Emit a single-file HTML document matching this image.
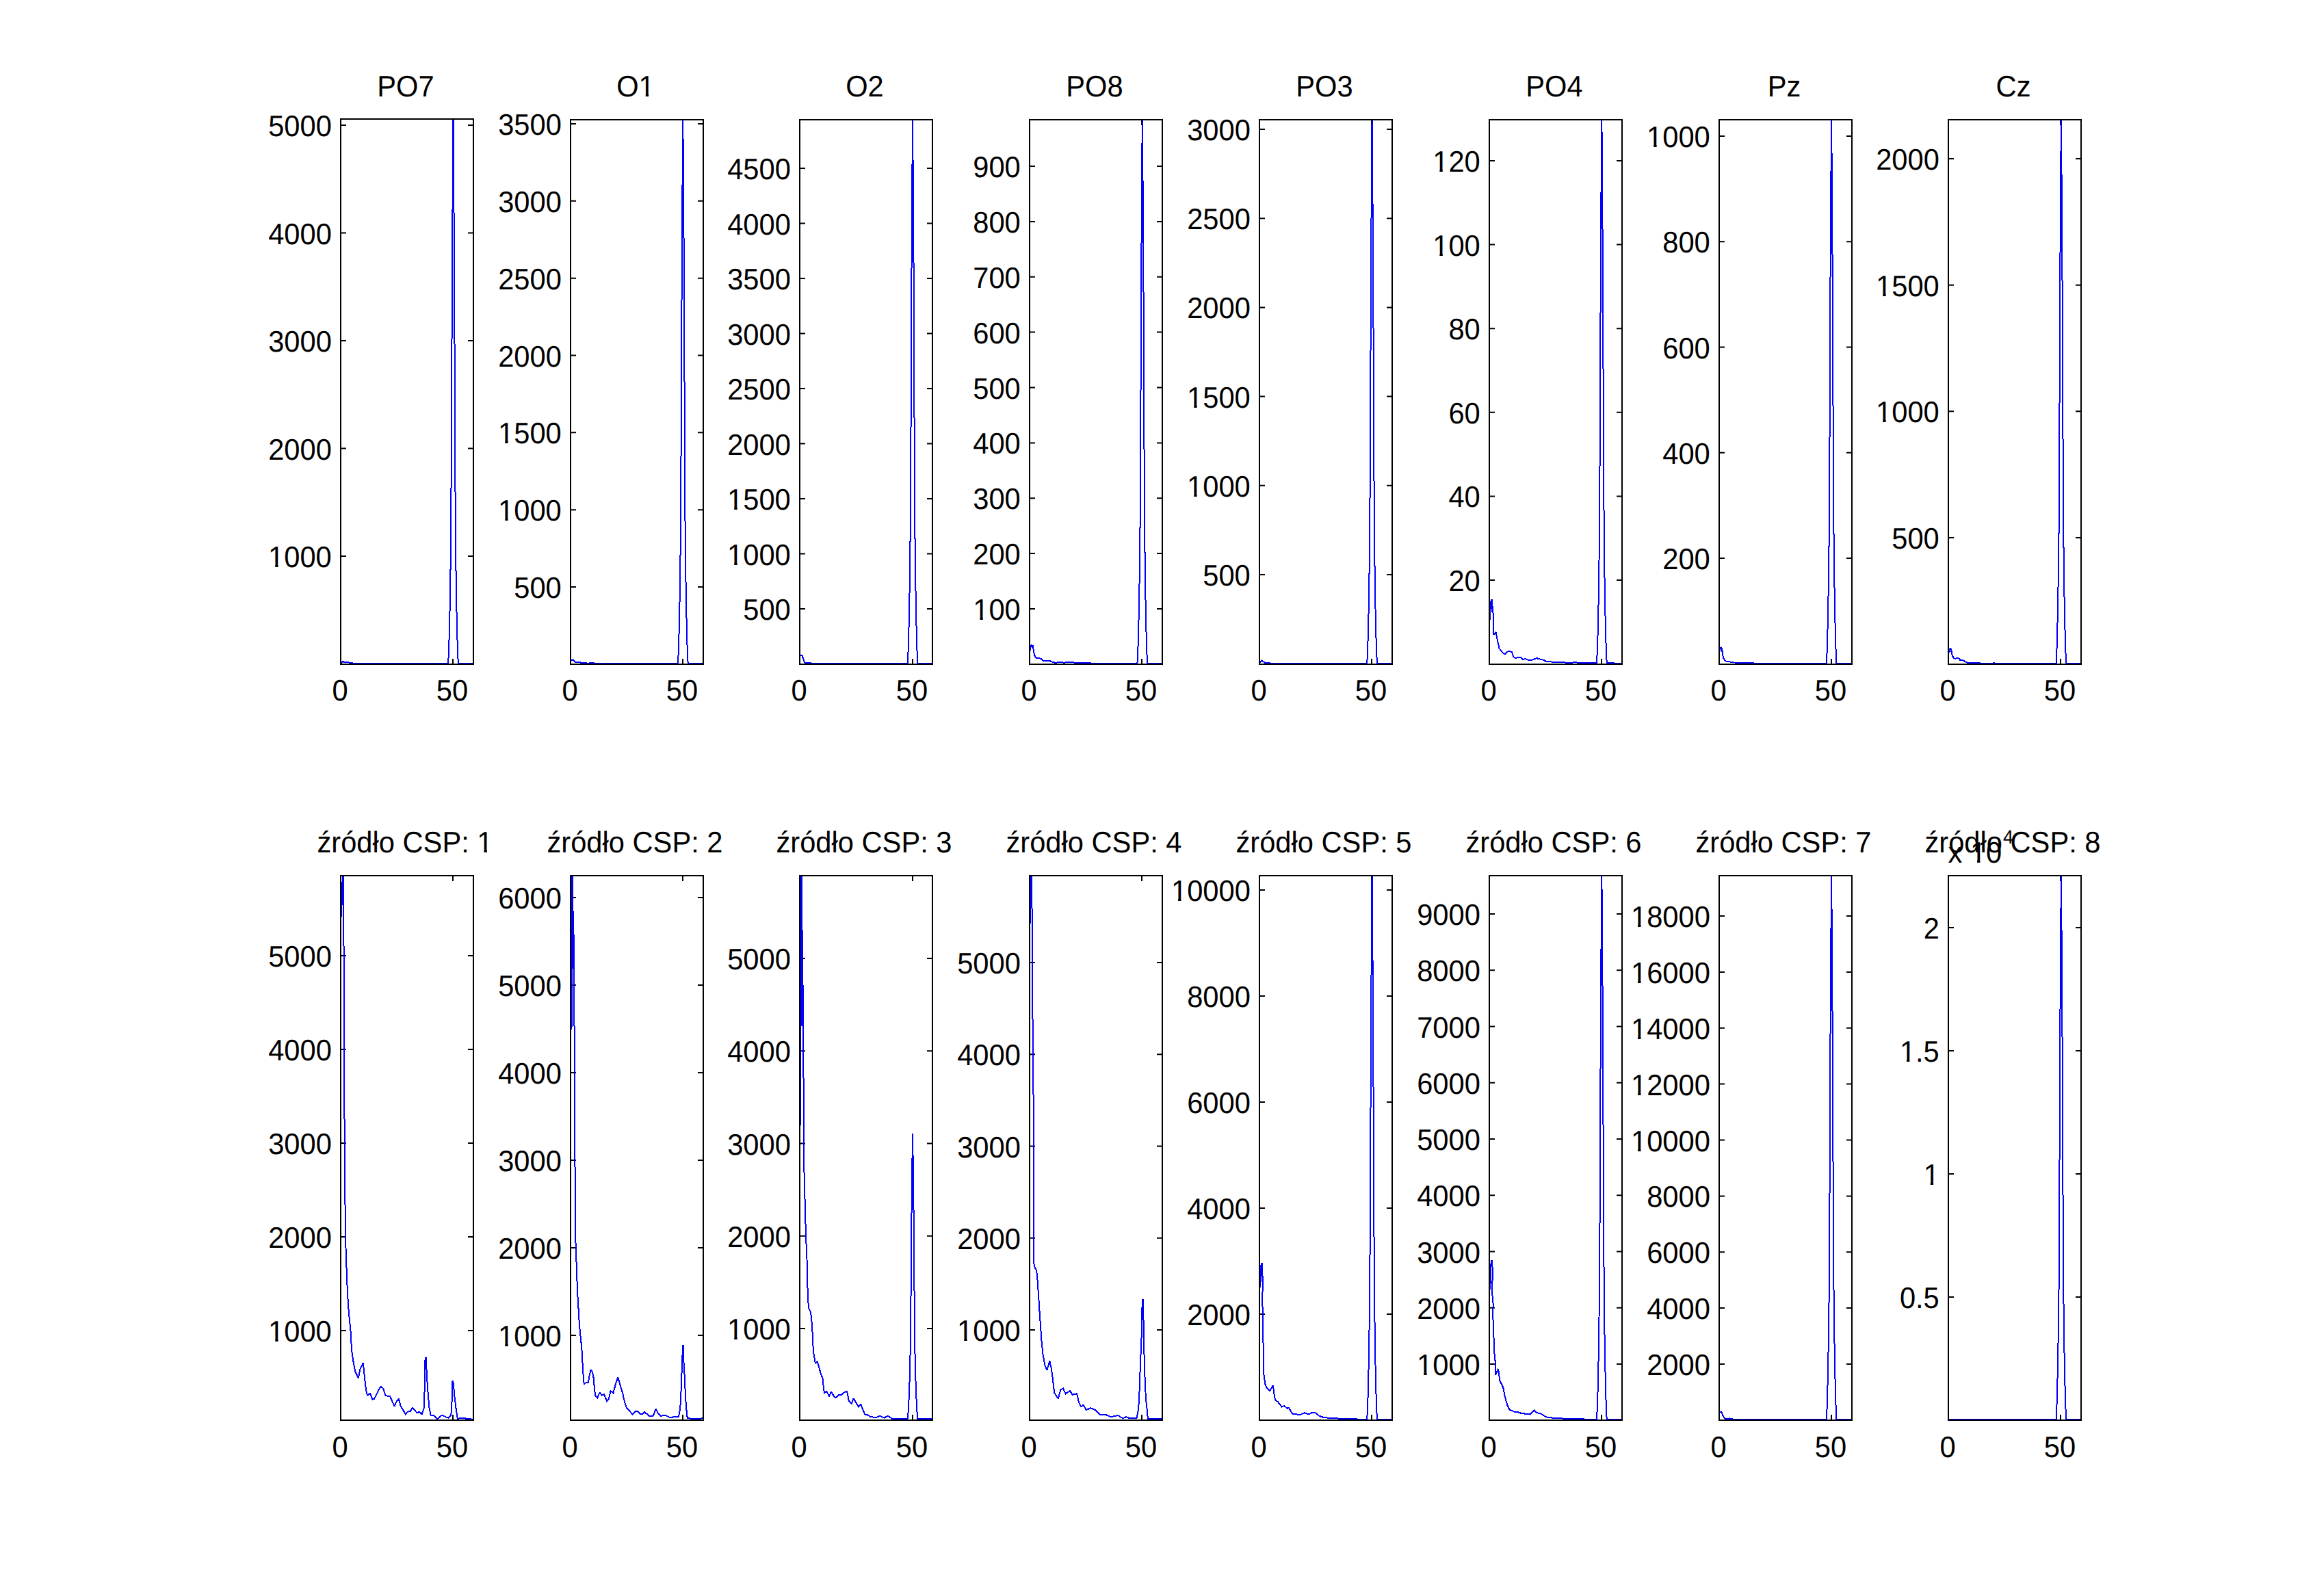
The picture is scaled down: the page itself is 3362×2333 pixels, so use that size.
<!DOCTYPE html>
<html><head><meta charset="utf-8"><title>figure</title>
<style>html,body{margin:0;padding:0;background:#fff;}svg{display:block;}text{font-family:"Liberation Sans",sans-serif;font-size:41.67px;fill:#000;text-rendering:geometricPrecision;}</style></head><body>
<svg xmlns="http://www.w3.org/2000/svg" width="3362" height="2333" viewBox="0 0 3362 2333">
<rect width="3362" height="2333" fill="#fff"/>
<defs><clipPath id="c0"><rect x="497" y="173" width="196" height="799"/></clipPath><clipPath id="c1"><rect x="833" y="174" width="196" height="798"/></clipPath><clipPath id="c2"><rect x="1168" y="174" width="196" height="798"/></clipPath><clipPath id="c3"><rect x="1504" y="174" width="196" height="798"/></clipPath><clipPath id="c4"><rect x="1840" y="174" width="196" height="798"/></clipPath><clipPath id="c5"><rect x="2176" y="174" width="196" height="798"/></clipPath><clipPath id="c6"><rect x="2512" y="174" width="196" height="798"/></clipPath><clipPath id="c7"><rect x="2847" y="174" width="196" height="798"/></clipPath><clipPath id="c8"><rect x="497" y="1279" width="196" height="798"/></clipPath><clipPath id="c9"><rect x="833" y="1279" width="196" height="798"/></clipPath><clipPath id="c10"><rect x="1168" y="1279" width="196" height="798"/></clipPath><clipPath id="c11"><rect x="1504" y="1279" width="196" height="798"/></clipPath><clipPath id="c12"><rect x="1840" y="1279" width="196" height="798"/></clipPath><clipPath id="c13"><rect x="2176" y="1279" width="196" height="798"/></clipPath><clipPath id="c14"><rect x="2512" y="1279" width="196" height="798"/></clipPath><clipPath id="c15"><rect x="2847" y="1279" width="196" height="798"/></clipPath></defs>
<g stroke="#000" stroke-width="2" fill="none"><path d="M498 813H506M692 813H684"/><path d="M498 655.5H506M692 655.5H684"/><path d="M498 498H506M692 498H684"/><path d="M498 340.5H506M692 340.5H684"/><path d="M498 183H506M692 183H684"/><path d="M662 971V963M662 174V182"/></g>
<polyline clip-path="url(#c0)" points="498.5,969.5 500,968 501.5,967 503,968 509.5,968 510.5,969 515.5,969 516.5,970 655.12,970 655.94,954.04 656.76,926.11 657.58,890.2 658.4,842.32 659.22,770.5 660.04,610.9 660.86,411.4 661.68,279.73 662.5,172 663.32,279.73 664.14,411.4 664.96,610.9 665.78,770.5 666.6,842.32 667.42,890.2 668.24,926.11 669.06,954.04 669.88,970 692,970" fill="none" stroke="#0000ff" stroke-width="2" stroke-linejoin="miter" stroke-miterlimit="2" shape-rendering="crispEdges"/>
<rect x="498" y="174" width="194" height="797" fill="none" stroke="#000" stroke-width="2"/>
<text transform="translate(484.8 829) scale(1 1.04)" text-anchor="end"><tspan class="o1">1</tspan>000</text><text transform="translate(484.8 671.5) scale(1 1.04)" text-anchor="end">2000</text><text transform="translate(484.8 514) scale(1 1.04)" text-anchor="end">3000</text><text transform="translate(484.8 356.5) scale(1 1.04)" text-anchor="end">4000</text><text transform="translate(484.8 199) scale(1 1.04)" text-anchor="end">5000</text><text transform="translate(497 1023.5) scale(1 1.04)" text-anchor="middle">0</text><text transform="translate(661 1023.5) scale(1 1.04)" text-anchor="middle">50</text><text transform="translate(593 141) scale(1 1.04)" text-anchor="middle">PO7</text>
<g stroke="#000" stroke-width="2" fill="none"><path d="M834 858H842M1028 858H1020"/><path d="M834 745.16H842M1028 745.16H1020"/><path d="M834 632.33H842M1028 632.33H1020"/><path d="M834 519.5H842M1028 519.5H1020"/><path d="M834 406.66H842M1028 406.66H1020"/><path d="M834 293.83H842M1028 293.83H1020"/><path d="M834 181H842M1028 181H1020"/><path d="M998 971V963M998 175V183"/></g>
<polyline clip-path="url(#c1)" points="834.9,965.5 837.5,964.5 840,967 842,968.5 848.5,968.3 849.5,969 856,969 858,969.6 861,969.6 862.5,968.6 867.5,968.6 869,970 990.89,970 991.71,954.04 992.53,926.11 993.35,890.2 994.17,842.32 994.99,770.5 995.81,610.9 996.63,411.4 997.45,279.73 998.27,172 999.09,279.73 999.91,411.4 1000.73,610.9 1001.55,770.5 1002.37,842.32 1003.19,890.2 1004.01,926.11 1004.83,954.04 1005.65,970 1028,970" fill="none" stroke="#0000ff" stroke-width="2" stroke-linejoin="miter" stroke-miterlimit="2" shape-rendering="crispEdges"/>
<rect x="834" y="175" width="194" height="796" fill="none" stroke="#000" stroke-width="2"/>
<text transform="translate(820.8 874) scale(1 1.04)" text-anchor="end">500</text><text transform="translate(820.8 761.16) scale(1 1.04)" text-anchor="end"><tspan class="o1">1</tspan>000</text><text transform="translate(820.8 648.33) scale(1 1.04)" text-anchor="end"><tspan class="o1">1</tspan>500</text><text transform="translate(820.8 535.5) scale(1 1.04)" text-anchor="end">2000</text><text transform="translate(820.8 422.66) scale(1 1.04)" text-anchor="end">2500</text><text transform="translate(820.8 309.83) scale(1 1.04)" text-anchor="end">3000</text><text transform="translate(820.8 197) scale(1 1.04)" text-anchor="end">3500</text><text transform="translate(833 1023.5) scale(1 1.04)" text-anchor="middle">0</text><text transform="translate(997 1023.5) scale(1 1.04)" text-anchor="middle">50</text><text transform="translate(929 141) scale(1 1.04)" text-anchor="middle">O<tspan class="o1">1</tspan></text>
<g stroke="#000" stroke-width="2" fill="none"><path d="M1169 890H1177M1363 890H1355"/><path d="M1169 809.5H1177M1363 809.5H1355"/><path d="M1169 729H1177M1363 729H1355"/><path d="M1169 648.5H1177M1363 648.5H1355"/><path d="M1169 568H1177M1363 568H1355"/><path d="M1169 487.5H1177M1363 487.5H1355"/><path d="M1169 407H1177M1363 407H1355"/><path d="M1169 326.5H1177M1363 326.5H1355"/><path d="M1169 246H1177M1363 246H1355"/><path d="M1334 971V963M1334 175V183"/></g>
<polyline clip-path="url(#c2)" points="1169.8,958.3 1172.5,958.5 1176,968.5 1184,969.3 1190,970 1326.66,970 1327.48,954.04 1328.3,926.11 1329.12,890.2 1329.94,842.32 1330.76,770.5 1331.58,610.9 1332.4,411.4 1333.22,279.73 1334.04,172 1334.86,279.73 1335.68,411.4 1336.5,610.9 1337.32,770.5 1338.14,842.32 1338.96,890.2 1339.78,926.11 1340.6,954.04 1341.42,970 1363,970" fill="none" stroke="#0000ff" stroke-width="2" stroke-linejoin="miter" stroke-miterlimit="2" shape-rendering="crispEdges"/>
<rect x="1169" y="175" width="194" height="796" fill="none" stroke="#000" stroke-width="2"/>
<text transform="translate(1155.8 906) scale(1 1.04)" text-anchor="end">500</text><text transform="translate(1155.8 825.5) scale(1 1.04)" text-anchor="end"><tspan class="o1">1</tspan>000</text><text transform="translate(1155.8 745) scale(1 1.04)" text-anchor="end"><tspan class="o1">1</tspan>500</text><text transform="translate(1155.8 664.5) scale(1 1.04)" text-anchor="end">2000</text><text transform="translate(1155.8 584) scale(1 1.04)" text-anchor="end">2500</text><text transform="translate(1155.8 503.5) scale(1 1.04)" text-anchor="end">3000</text><text transform="translate(1155.8 423) scale(1 1.04)" text-anchor="end">3500</text><text transform="translate(1155.8 342.5) scale(1 1.04)" text-anchor="end">4000</text><text transform="translate(1155.8 262) scale(1 1.04)" text-anchor="end">4500</text><text transform="translate(1168 1023.5) scale(1 1.04)" text-anchor="middle">0</text><text transform="translate(1333 1023.5) scale(1 1.04)" text-anchor="middle">50</text><text transform="translate(1264 141) scale(1 1.04)" text-anchor="middle">O2</text>
<g stroke="#000" stroke-width="2" fill="none"><path d="M1505 890H1513M1699 890H1691"/><path d="M1505 809.12H1513M1699 809.12H1691"/><path d="M1505 728.25H1513M1699 728.25H1691"/><path d="M1505 647.38H1513M1699 647.38H1691"/><path d="M1505 566.5H1513M1699 566.5H1691"/><path d="M1505 485.62H1513M1699 485.62H1691"/><path d="M1505 404.75H1513M1699 404.75H1691"/><path d="M1505 323.88H1513M1699 323.88H1691"/><path d="M1505 243H1513M1699 243H1691"/><path d="M1669 971V963M1669 175V183"/></g>
<polyline clip-path="url(#c3)" points="1506.2,950.6 1506.6,944.3 1508.3,942.3 1509.2,946.5 1509.7,943 1510.7,950.6 1511.7,956.2 1513.1,960.3 1514.9,961.7 1518.7,962.1 1522.2,963.1 1525,965.9 1529.8,966.3 1534,965.9 1538.2,967.7 1542.3,968.7 1550.7,968 1554.9,968.7 1561.1,968 1568.1,968 1571.6,969 1584.8,968.7 1593.8,968.7 1595.9,970 1662.43,970 1663.25,954.04 1664.07,926.11 1664.89,890.2 1665.71,842.32 1666.53,770.5 1667.35,610.9 1668.17,411.4 1668.99,279.73 1669.81,172 1670.63,279.73 1671.45,411.4 1672.27,610.9 1673.09,770.5 1673.91,842.32 1674.73,890.2 1675.55,926.11 1676.37,954.04 1677.19,970 1699,970" fill="none" stroke="#0000ff" stroke-width="2" stroke-linejoin="miter" stroke-miterlimit="2" shape-rendering="crispEdges"/>
<rect x="1505" y="175" width="194" height="796" fill="none" stroke="#000" stroke-width="2"/>
<text transform="translate(1491.8 906) scale(1 1.04)" text-anchor="end"><tspan class="o1">1</tspan>00</text><text transform="translate(1491.8 825.12) scale(1 1.04)" text-anchor="end">200</text><text transform="translate(1491.8 744.25) scale(1 1.04)" text-anchor="end">300</text><text transform="translate(1491.8 663.38) scale(1 1.04)" text-anchor="end">400</text><text transform="translate(1491.8 582.5) scale(1 1.04)" text-anchor="end">500</text><text transform="translate(1491.8 501.62) scale(1 1.04)" text-anchor="end">600</text><text transform="translate(1491.8 420.75) scale(1 1.04)" text-anchor="end">700</text><text transform="translate(1491.8 339.88) scale(1 1.04)" text-anchor="end">800</text><text transform="translate(1491.8 259) scale(1 1.04)" text-anchor="end">900</text><text transform="translate(1504 1023.5) scale(1 1.04)" text-anchor="middle">0</text><text transform="translate(1668 1023.5) scale(1 1.04)" text-anchor="middle">50</text><text transform="translate(1600 141) scale(1 1.04)" text-anchor="middle">PO8</text>
<g stroke="#000" stroke-width="2" fill="none"><path d="M1841 840H1849M2035 840H2027"/><path d="M1841 709.8H1849M2035 709.8H2027"/><path d="M1841 579.6H1849M2035 579.6H2027"/><path d="M1841 449.4H1849M2035 449.4H2027"/><path d="M1841 319.2H1849M2035 319.2H2027"/><path d="M1841 189H1849M2035 189H2027"/><path d="M2005 971V963M2005 175V183"/></g>
<polyline clip-path="url(#c4)" points="1842.1,968.5 1844.5,965.5 1846.5,967 1848.3,968.5 1855.5,968.5 1856.5,970 1998.2,970 1999.02,954.04 1999.84,926.11 2000.66,890.2 2001.48,842.32 2002.3,770.5 2003.12,610.9 2003.94,411.4 2004.76,279.73 2005.58,172 2006.4,279.73 2007.22,411.4 2008.04,610.9 2008.86,770.5 2009.68,842.32 2010.5,890.2 2011.32,926.11 2012.14,954.04 2012.96,970 2035,970" fill="none" stroke="#0000ff" stroke-width="2" stroke-linejoin="miter" stroke-miterlimit="2" shape-rendering="crispEdges"/>
<rect x="1841" y="175" width="194" height="796" fill="none" stroke="#000" stroke-width="2"/>
<text transform="translate(1827.8 856) scale(1 1.04)" text-anchor="end">500</text><text transform="translate(1827.8 725.8) scale(1 1.04)" text-anchor="end"><tspan class="o1">1</tspan>000</text><text transform="translate(1827.8 595.6) scale(1 1.04)" text-anchor="end"><tspan class="o1">1</tspan>500</text><text transform="translate(1827.8 465.4) scale(1 1.04)" text-anchor="end">2000</text><text transform="translate(1827.8 335.2) scale(1 1.04)" text-anchor="end">2500</text><text transform="translate(1827.8 205) scale(1 1.04)" text-anchor="end">3000</text><text transform="translate(1840 1023.5) scale(1 1.04)" text-anchor="middle">0</text><text transform="translate(2004 1023.5) scale(1 1.04)" text-anchor="middle">50</text><text transform="translate(1936 141) scale(1 1.04)" text-anchor="middle">PO3</text>
<g stroke="#000" stroke-width="2" fill="none"><path d="M2177 848H2185M2371 848H2363"/><path d="M2177 725.4H2185M2371 725.4H2363"/><path d="M2177 602.8H2185M2371 602.8H2363"/><path d="M2177 480.2H2185M2371 480.2H2363"/><path d="M2177 357.6H2185M2371 357.6H2363"/><path d="M2177 235H2185M2371 235H2363"/><path d="M2341 971V963M2341 175V183"/></g>
<polyline clip-path="url(#c5)" points="2178.3,905.8 2178.6,882.9 2180.1,876.6 2181.2,876.6 2180.9,894.7 2182.3,885.9 2182.7,904.3 2183.1,920.6 2183.5,928 2186.4,923.9 2187.9,931 2189.7,939.8 2191.6,948 2194.2,950.9 2196.4,954.2 2199.7,956.1 2203,952.8 2206.7,952 2209.7,953.1 2212.3,960.1 2215.6,962 2219.3,960.9 2223,961.3 2226.7,964.2 2229.6,962.7 2233.3,964.6 2240,964.6 2245.9,962 2249.6,963.1 2255.5,964.6 2260.7,967.2 2268.1,967.5 2277,968.3 2293.2,968.6 2297.6,969 2302.1,967.5 2306.5,969 2333.97,969 2334.79,953.06 2335.61,925.16 2336.43,889.3 2337.25,841.48 2338.07,769.75 2338.89,610.35 2339.71,411.1 2340.53,279.6 2341.35,172 2342.17,279.6 2342.99,411.1 2343.81,610.35 2344.63,769.75 2345.45,841.48 2346.27,889.3 2347.09,925.16 2347.91,953.06 2348.73,969 2371,970" fill="none" stroke="#0000ff" stroke-width="2" stroke-linejoin="miter" stroke-miterlimit="2" shape-rendering="crispEdges"/>
<rect x="2177" y="175" width="194" height="796" fill="none" stroke="#000" stroke-width="2"/>
<text transform="translate(2163.8 864) scale(1 1.04)" text-anchor="end">20</text><text transform="translate(2163.8 741.4) scale(1 1.04)" text-anchor="end">40</text><text transform="translate(2163.8 618.8) scale(1 1.04)" text-anchor="end">60</text><text transform="translate(2163.8 496.2) scale(1 1.04)" text-anchor="end">80</text><text transform="translate(2163.8 373.6) scale(1 1.04)" text-anchor="end"><tspan class="o1">1</tspan>00</text><text transform="translate(2163.8 251) scale(1 1.04)" text-anchor="end"><tspan class="o1">1</tspan>20</text><text transform="translate(2176 1023.5) scale(1 1.04)" text-anchor="middle">0</text><text transform="translate(2340 1023.5) scale(1 1.04)" text-anchor="middle">50</text><text transform="translate(2272 141) scale(1 1.04)" text-anchor="middle">PO4</text>
<g stroke="#000" stroke-width="2" fill="none"><path d="M2513 816H2521M2707 816H2699"/><path d="M2513 661.75H2521M2707 661.75H2699"/><path d="M2513 507.5H2521M2707 507.5H2699"/><path d="M2513 353.25H2521M2707 353.25H2699"/><path d="M2513 199H2521M2707 199H2699"/><path d="M2677 971V963M2677 175V183"/></g>
<polyline clip-path="url(#c6)" points="2514.1,952 2514.3,949.3 2515.4,946.7 2517,948 2516.5,952.8 2518,951.1 2518,956.3 2518.9,961.1 2520,963.3 2521.3,965 2523,966.5 2527.4,967 2530.4,967.8 2534.3,968.5 2553.5,968.7 2555.7,969.3 2559.1,968.5 2561.3,969.3 2570,970 2669.74,970 2670.56,954.04 2671.38,926.11 2672.2,890.2 2673.02,842.32 2673.84,770.5 2674.66,610.9 2675.48,411.4 2676.3,279.73 2677.12,172 2677.94,279.73 2678.76,411.4 2679.58,610.9 2680.4,770.5 2681.22,842.32 2682.04,890.2 2682.86,926.11 2683.68,954.04 2684.5,970 2707,970" fill="none" stroke="#0000ff" stroke-width="2" stroke-linejoin="miter" stroke-miterlimit="2" shape-rendering="crispEdges"/>
<rect x="2513" y="175" width="194" height="796" fill="none" stroke="#000" stroke-width="2"/>
<text transform="translate(2499.8 832) scale(1 1.04)" text-anchor="end">200</text><text transform="translate(2499.8 677.75) scale(1 1.04)" text-anchor="end">400</text><text transform="translate(2499.8 523.5) scale(1 1.04)" text-anchor="end">600</text><text transform="translate(2499.8 369.25) scale(1 1.04)" text-anchor="end">800</text><text transform="translate(2499.8 215) scale(1 1.04)" text-anchor="end"><tspan class="o1">1</tspan>000</text><text transform="translate(2512 1023.5) scale(1 1.04)" text-anchor="middle">0</text><text transform="translate(2676 1023.5) scale(1 1.04)" text-anchor="middle">50</text><text transform="translate(2608 141) scale(1 1.04)" text-anchor="middle">Pz</text>
<g stroke="#000" stroke-width="2" fill="none"><path d="M2848 786H2856M3042 786H3034"/><path d="M2848 601.34H2856M3042 601.34H3034"/><path d="M2848 416.67H2856M3042 416.67H3034"/><path d="M2848 232H2856M3042 232H3034"/><path d="M3012 971V963M3012 175V183"/></g>
<polyline clip-path="url(#c7)" points="2849.1,953.7 2849.3,950.2 2850.4,948 2852,948.9 2851.5,952 2853,952 2853.3,956.3 2853.9,958.9 2855.4,961.1 2857.8,963.3 2859.8,962 2862.4,962 2864.1,963.3 2865.4,965 2868.5,965 2871.1,966.3 2873.7,967.8 2876.3,968.9 2892.8,968.9 2894.6,969.6 2912.8,969.6 2914.6,968.7 2915.4,969.6 3005.51,970 3006.33,954.04 3007.15,926.11 3007.97,890.2 3008.79,842.32 3009.61,770.5 3010.43,610.9 3011.25,411.4 3012.07,279.73 3012.89,172 3013.71,279.73 3014.53,411.4 3015.35,610.9 3016.17,770.5 3016.99,842.32 3017.81,890.2 3018.63,926.11 3019.45,954.04 3020.27,970 3042,970" fill="none" stroke="#0000ff" stroke-width="2" stroke-linejoin="miter" stroke-miterlimit="2" shape-rendering="crispEdges"/>
<rect x="2848" y="175" width="194" height="796" fill="none" stroke="#000" stroke-width="2"/>
<text transform="translate(2834.8 802) scale(1 1.04)" text-anchor="end">500</text><text transform="translate(2834.8 617.34) scale(1 1.04)" text-anchor="end"><tspan class="o1">1</tspan>000</text><text transform="translate(2834.8 432.67) scale(1 1.04)" text-anchor="end"><tspan class="o1">1</tspan>500</text><text transform="translate(2834.8 248) scale(1 1.04)" text-anchor="end">2000</text><text transform="translate(2847 1023.5) scale(1 1.04)" text-anchor="middle">0</text><text transform="translate(3011 1023.5) scale(1 1.04)" text-anchor="middle">50</text><text transform="translate(2943 141) scale(1 1.04)" text-anchor="middle">Cz</text>
<g stroke="#000" stroke-width="2" fill="none"><path d="M498 1945H506M692 1945H684"/><path d="M498 1808H506M692 1808H684"/><path d="M498 1671H506M692 1671H684"/><path d="M498 1534H506M692 1534H684"/><path d="M498 1397H506M692 1397H684"/><path d="M662 2076V2068M662 1280V1288"/></g>
<polyline clip-path="url(#c8)" points="499,1340 500.8,1279 501.8,1279 502.3,1345 502.6,1400 503,1600 504,1670 504.3,1740 505,1807 505.8,1834 507.4,1877 509,1908 511,1930 512.8,1948.8 513.7,1967.6 514.7,1978.9 516.1,1988.3 517.5,1995.8 519.4,2005.2 523.9,2014.6 526.4,2001.4 530.8,1992 532.1,2005.2 533.5,2019.3 535.3,2033.4 537,2039.5 541,2037.1 544.3,2045.6 547.1,2045.1 554.1,2030.5 557,2026.8 560.2,2029.6 563.5,2039.9 570.1,2041.4 576.7,2055.9 580,2047.5 582.8,2045.1 585.6,2055 592.7,2067.2 595.5,2063.9 599.7,2063 603,2057.8 609.6,2065.3 612.9,2063.9 616.6,2067.2 619.9,2057.8 620.9,2020.2 621.6,1984.5 622.6,1984.5 623.2,1995.8 624.1,2012.7 625.1,2029.6 627.4,2057.8 629.8,2069.1 634,2069.1 639.2,2074.2 646.2,2068.6 651.9,2071.4 655.6,2072.8 659.4,2068.1 660.8,2044.6 661.5,2019.3 662.3,2019.3 663.1,2026.8 664.6,2042.8 666.4,2057.8 668.8,2073.8 672.5,2073.3 678.2,2072.8 682.9,2074.2 692,2074.7" fill="none" stroke="#0000ff" stroke-width="2" stroke-linejoin="miter" stroke-miterlimit="2" shape-rendering="crispEdges"/>
<rect x="498" y="1280" width="194" height="796" fill="none" stroke="#000" stroke-width="2"/>
<text transform="translate(484.8 1961) scale(1 1.04)" text-anchor="end"><tspan class="o1">1</tspan>000</text><text transform="translate(484.8 1824) scale(1 1.04)" text-anchor="end">2000</text><text transform="translate(484.8 1687) scale(1 1.04)" text-anchor="end">3000</text><text transform="translate(484.8 1550) scale(1 1.04)" text-anchor="end">4000</text><text transform="translate(484.8 1413) scale(1 1.04)" text-anchor="end">5000</text><text transform="translate(497 2129.5) scale(1 1.04)" text-anchor="middle">0</text><text transform="translate(661 2129.5) scale(1 1.04)" text-anchor="middle">50</text><text transform="translate(592 1246) scale(1 1.04)" text-anchor="middle">źródło CSP: <tspan class="o1">1</tspan></text>
<g stroke="#000" stroke-width="2" fill="none"><path d="M834 1952H842M1028 1952H1020"/><path d="M834 1824H842M1028 1824H1020"/><path d="M834 1696H842M1028 1696H1020"/><path d="M834 1568H842M1028 1568H1020"/><path d="M834 1440H842M1028 1440H1020"/><path d="M834 1312H842M1028 1312H1020"/><path d="M998 2076V2068M998 1280V1288"/></g>
<polyline clip-path="url(#c9)" points="835.5,1505 836.3,1279 837.2,1279 838,1416 838.8,1366 839.5,1500 840,1600 840.5,1706 841.2,1808 842.4,1842 843.6,1875 844.7,1900 845.8,1916.9 846.9,1937.2 848.6,1954.1 850.3,1969.9 851.4,1990.2 852.6,2010.5 853.7,2022.9 856.5,2021.2 859.9,2020.7 861.6,2010.5 863.6,2002.1 866.1,2006 867.8,2015 868.9,2029.7 870,2039.8 873.1,2043.2 876.8,2035.3 879.6,2039.8 883,2038.1 886.9,2048.3 889.8,2045.5 892.6,2033.1 896.5,2036.4 899.9,2022.9 903.3,2013.3 906.7,2025.2 910.1,2036.4 912.9,2048.9 915.7,2057.9 920.2,2062.4 924.7,2067.5 928.1,2063.5 932.1,2062.9 936,2067.5 939.4,2066.9 942.2,2064.1 949.5,2070.3 954.6,2069.7 958.6,2059.6 961.9,2065.8 965.9,2070.3 969.8,2068.6 973.2,2069.1 978.8,2072 984.5,2071.4 991.8,2071.4 994.1,2060.1 995.2,2043.2 996.3,2012.8 997.5,1981.2 997.8,1966.5 998.7,1966.5 999.1,1981.2 999.7,1997 1000.8,2012.8 1002,2041 1003.1,2057.9 1004.8,2073.1 1010.4,2073.7 1021.7,2074.2 1027.5,2073.1" fill="none" stroke="#0000ff" stroke-width="2" stroke-linejoin="miter" stroke-miterlimit="2" shape-rendering="crispEdges"/>
<rect x="834" y="1280" width="194" height="796" fill="none" stroke="#000" stroke-width="2"/>
<text transform="translate(820.8 1968) scale(1 1.04)" text-anchor="end"><tspan class="o1">1</tspan>000</text><text transform="translate(820.8 1840) scale(1 1.04)" text-anchor="end">2000</text><text transform="translate(820.8 1712) scale(1 1.04)" text-anchor="end">3000</text><text transform="translate(820.8 1584) scale(1 1.04)" text-anchor="end">4000</text><text transform="translate(820.8 1456) scale(1 1.04)" text-anchor="end">5000</text><text transform="translate(820.8 1328) scale(1 1.04)" text-anchor="end">6000</text><text transform="translate(833 2129.5) scale(1 1.04)" text-anchor="middle">0</text><text transform="translate(997 2129.5) scale(1 1.04)" text-anchor="middle">50</text><text transform="translate(928 1246) scale(1 1.04)" text-anchor="middle">źródło CSP: 2</text>
<g stroke="#000" stroke-width="2" fill="none"><path d="M1169 1942H1177M1363 1942H1355"/><path d="M1169 1806.75H1177M1363 1806.75H1355"/><path d="M1169 1671.5H1177M1363 1671.5H1355"/><path d="M1169 1536.25H1177M1363 1536.25H1355"/><path d="M1169 1401H1177M1363 1401H1355"/><path d="M1334 2076V2068M1334 1280V1288"/></g>
<polyline clip-path="url(#c10)" points="1170,1645 1171,1279 1172,1279 1172.4,1500 1173,1360 1173.8,1486 1174.7,1600 1175.5,1714 1176.7,1760 1178,1806 1179.5,1841 1180.3,1881 1181.1,1890 1181.7,1911.4 1185.2,1918.6 1186.4,1930.5 1187.6,1948.3 1188.4,1966.2 1189.4,1978.7 1190.6,1985.2 1191.8,1992.4 1194.8,1990.6 1197.7,2000.7 1200.1,2009 1202.5,2015 1203.7,2026.9 1204.9,2036.4 1208.4,2034 1212,2041.2 1215,2034.6 1219.7,2042.3 1222.1,2042.9 1225.7,2038.8 1229.9,2038.8 1235.2,2034.6 1238.2,2034 1240.6,2047.1 1244.7,2051.9 1247.7,2044.1 1254.9,2056.6 1258.4,2052.5 1260.2,2057.8 1264.4,2067.9 1268.5,2068.5 1272.1,2070.9 1280.4,2072.1 1286.4,2069.7 1292.4,2072.7 1297.7,2069.7 1304.3,2073.9 1326.9,2073.9 1326.66,2073.9 1327.48,2065.57 1328.3,2051 1329.12,2032.26 1329.94,2007.28 1330.76,1969.8 1331.58,1886.52 1332.4,1782.42 1333.22,1713.71 1334.04,1657.5 1334.86,1713.71 1335.68,1782.42 1336.5,1886.52 1337.32,1969.8 1338.14,2007.28 1338.96,2032.26 1339.78,2051 1340.6,2065.57 1341.42,2073.9 1349.5,2073.9 1363.3,2074.5" fill="none" stroke="#0000ff" stroke-width="2" stroke-linejoin="miter" stroke-miterlimit="2" shape-rendering="crispEdges"/>
<rect x="1169" y="1280" width="194" height="796" fill="none" stroke="#000" stroke-width="2"/>
<text transform="translate(1155.8 1958) scale(1 1.04)" text-anchor="end"><tspan class="o1">1</tspan>000</text><text transform="translate(1155.8 1822.75) scale(1 1.04)" text-anchor="end">2000</text><text transform="translate(1155.8 1687.5) scale(1 1.04)" text-anchor="end">3000</text><text transform="translate(1155.8 1552.25) scale(1 1.04)" text-anchor="end">4000</text><text transform="translate(1155.8 1417) scale(1 1.04)" text-anchor="end">5000</text><text transform="translate(1168 2129.5) scale(1 1.04)" text-anchor="middle">0</text><text transform="translate(1333 2129.5) scale(1 1.04)" text-anchor="middle">50</text><text transform="translate(1263 1246) scale(1 1.04)" text-anchor="middle">źródło CSP: 3</text>
<g stroke="#000" stroke-width="2" fill="none"><path d="M1505 1944H1513M1699 1944H1691"/><path d="M1505 1809.75H1513M1699 1809.75H1691"/><path d="M1505 1675.5H1513M1699 1675.5H1691"/><path d="M1505 1541.25H1513M1699 1541.25H1691"/><path d="M1505 1407H1513M1699 1407H1691"/><path d="M1669 2076V2068M1669 1280V1288"/></g>
<polyline clip-path="url(#c11)" points="1506,1350 1507,1279 1508,1279 1509,1376 1509.5,1490 1510.5,1600 1510.5,1751.5 1511.5,1847.8 1513,1853.6 1515.1,1857.2 1516.6,1871.6 1518,1893.2 1519.4,1914.8 1520.9,1936.4 1522.3,1958.1 1524.5,1979.7 1527.4,1995.5 1530.5,2002.7 1534.3,1989.7 1536.7,1999.8 1538.9,2015.7 1541.1,2035.9 1546.8,2044.5 1550.4,2031.5 1554,2029.4 1557.6,2037.3 1564.1,2033 1567.7,2038.7 1574.2,2037.3 1577.1,2050.3 1580,2056 1583.6,2053.9 1587.9,2061.1 1594.4,2058.2 1600.9,2061.1 1608.1,2068.3 1615.3,2067.6 1623.9,2071.2 1634,2069 1641.2,2073.3 1646.2,2071.2 1651.3,2073.3 1661.4,2073 1663.5,2063.2 1665,2048.8 1667.1,1989.7 1668.6,1953.7 1669.3,1919.2 1669.8,1899.7 1670.8,1899.7 1671.4,1923.5 1672.2,1969.6 1673.6,2015.7 1675,2045.9 1676.5,2058.9 1677.9,2074 1687.3,2074 1699.3,2074" fill="none" stroke="#0000ff" stroke-width="2" stroke-linejoin="miter" stroke-miterlimit="2" shape-rendering="crispEdges"/>
<rect x="1505" y="1280" width="194" height="796" fill="none" stroke="#000" stroke-width="2"/>
<text transform="translate(1491.8 1960) scale(1 1.04)" text-anchor="end"><tspan class="o1">1</tspan>000</text><text transform="translate(1491.8 1825.75) scale(1 1.04)" text-anchor="end">2000</text><text transform="translate(1491.8 1691.5) scale(1 1.04)" text-anchor="end">3000</text><text transform="translate(1491.8 1557.25) scale(1 1.04)" text-anchor="end">4000</text><text transform="translate(1491.8 1423) scale(1 1.04)" text-anchor="end">5000</text><text transform="translate(1504 2129.5) scale(1 1.04)" text-anchor="middle">0</text><text transform="translate(1668 2129.5) scale(1 1.04)" text-anchor="middle">50</text><text transform="translate(1599 1246) scale(1 1.04)" text-anchor="middle">źródło CSP: 4</text>
<g stroke="#000" stroke-width="2" fill="none"><path d="M1841 1921H1849M2035 1921H2027"/><path d="M1841 1766H1849M2035 1766H2027"/><path d="M1841 1611H1849M2035 1611H2027"/><path d="M1841 1456H1849M2035 1456H2027"/><path d="M1841 1301H1849M2035 1301H2027"/><path d="M2005 2076V2068M2005 1280V1288"/></g>
<polyline clip-path="url(#c12)" points="1842.3,1881.7 1843.1,1853.5 1843.8,1846.5 1845.1,1846.5 1845.7,1873.9 1845.3,1905 1846.2,1924 1846,1946 1847,1978.9 1847.3,2008.7 1849.3,2022.8 1851.7,2029.1 1856.4,2033 1860.8,2025.1 1862.6,2038.5 1863.9,2046.3 1868.1,2049.4 1873.6,2056.5 1877.1,2054.9 1881.5,2058.8 1883.8,2058.1 1889.3,2066.7 1895.6,2067.5 1901.8,2067.5 1907.3,2065.1 1912.8,2067.5 1917.5,2065.1 1923,2065.4 1928.5,2069.8 1935.7,2072.2 1950,2073.3 1970,2074 1998.2,2075 1999.02,2059.06 1999.84,2031.16 2000.66,1995.3 2001.48,1947.48 2002.3,1875.75 2003.12,1716.35 2003.94,1517.1 2004.76,1385.6 2005.58,1278 2006.4,1385.6 2007.22,1517.1 2008.04,1716.35 2008.86,1875.75 2009.68,1947.48 2010.5,1995.3 2011.32,2031.16 2012.14,2059.06 2012.96,2075 2035,2075" fill="none" stroke="#0000ff" stroke-width="2" stroke-linejoin="miter" stroke-miterlimit="2" shape-rendering="crispEdges"/>
<rect x="1841" y="1280" width="194" height="796" fill="none" stroke="#000" stroke-width="2"/>
<text transform="translate(1827.8 1937) scale(1 1.04)" text-anchor="end">2000</text><text transform="translate(1827.8 1782) scale(1 1.04)" text-anchor="end">4000</text><text transform="translate(1827.8 1627) scale(1 1.04)" text-anchor="end">6000</text><text transform="translate(1827.8 1472) scale(1 1.04)" text-anchor="end">8000</text><text transform="translate(1827.8 1317) scale(1 1.04)" text-anchor="end"><tspan class="o1">1</tspan>0000</text><text transform="translate(1840 2129.5) scale(1 1.04)" text-anchor="middle">0</text><text transform="translate(2004 2129.5) scale(1 1.04)" text-anchor="middle">50</text><text transform="translate(1935 1246) scale(1 1.04)" text-anchor="middle">źródło CSP: 5</text>
<g stroke="#000" stroke-width="2" fill="none"><path d="M2177 1994H2185M2371 1994H2363"/><path d="M2177 1911.75H2185M2371 1911.75H2363"/><path d="M2177 1829.5H2185M2371 1829.5H2363"/><path d="M2177 1747.25H2185M2371 1747.25H2363"/><path d="M2177 1665H2185M2371 1665H2363"/><path d="M2177 1582.75H2185M2371 1582.75H2363"/><path d="M2177 1500.5H2185M2371 1500.5H2363"/><path d="M2177 1418.25H2185M2371 1418.25H2363"/><path d="M2177 1336H2185M2371 1336H2363"/><path d="M2341 2076V2068M2341 1280V1288"/></g>
<polyline clip-path="url(#c13)" points="2178.3,1884.9 2179.1,1850.4 2180.2,1842.5 2181.4,1842.5 2181.7,1864.5 2181.1,1889.6 2182.7,1906.8 2182.2,1920.9 2183.3,1949.1 2184.2,1975.8 2185.8,1991.4 2186.1,2010.2 2190,2000.8 2192.4,2018.1 2197.1,2027.5 2200.2,2043.2 2203.3,2054.1 2206.5,2060.4 2212.8,2063.5 2219,2064.3 2223.7,2065.9 2230,2066.7 2236.3,2067.5 2242.5,2061.2 2246.5,2065.1 2252.7,2066.7 2259.8,2071.4 2271.7,2072.9 2290,2073.8 2333.97,2075 2334.79,2059.06 2335.61,2031.16 2336.43,1995.3 2337.25,1947.48 2338.07,1875.75 2338.89,1716.35 2339.71,1517.1 2340.53,1385.6 2341.35,1278 2342.17,1385.6 2342.99,1517.1 2343.81,1716.35 2344.63,1875.75 2345.45,1947.48 2346.27,1995.3 2347.09,2031.16 2347.91,2059.06 2348.73,2075 2371,2075" fill="none" stroke="#0000ff" stroke-width="2" stroke-linejoin="miter" stroke-miterlimit="2" shape-rendering="crispEdges"/>
<rect x="2177" y="1280" width="194" height="796" fill="none" stroke="#000" stroke-width="2"/>
<text transform="translate(2163.8 2010) scale(1 1.04)" text-anchor="end"><tspan class="o1">1</tspan>000</text><text transform="translate(2163.8 1927.75) scale(1 1.04)" text-anchor="end">2000</text><text transform="translate(2163.8 1845.5) scale(1 1.04)" text-anchor="end">3000</text><text transform="translate(2163.8 1763.25) scale(1 1.04)" text-anchor="end">4000</text><text transform="translate(2163.8 1681) scale(1 1.04)" text-anchor="end">5000</text><text transform="translate(2163.8 1598.75) scale(1 1.04)" text-anchor="end">6000</text><text transform="translate(2163.8 1516.5) scale(1 1.04)" text-anchor="end">7000</text><text transform="translate(2163.8 1434.25) scale(1 1.04)" text-anchor="end">8000</text><text transform="translate(2163.8 1352) scale(1 1.04)" text-anchor="end">9000</text><text transform="translate(2176 2129.5) scale(1 1.04)" text-anchor="middle">0</text><text transform="translate(2340 2129.5) scale(1 1.04)" text-anchor="middle">50</text><text transform="translate(2271 1246) scale(1 1.04)" text-anchor="middle">źródło CSP: 6</text>
<g stroke="#000" stroke-width="2" fill="none"><path d="M2513 1994H2521M2707 1994H2699"/><path d="M2513 1912.12H2521M2707 1912.12H2699"/><path d="M2513 1830.25H2521M2707 1830.25H2699"/><path d="M2513 1748.38H2521M2707 1748.38H2699"/><path d="M2513 1666.5H2521M2707 1666.5H2699"/><path d="M2513 1584.62H2521M2707 1584.62H2699"/><path d="M2513 1502.75H2521M2707 1502.75H2699"/><path d="M2513 1420.88H2521M2707 1420.88H2699"/><path d="M2513 1339H2521M2707 1339H2699"/><path d="M2677 2076V2068M2677 1280V1288"/></g>
<polyline clip-path="url(#c14)" points="2514.1,2064.8 2515.4,2063.7 2516.5,2064.3 2518,2068.3 2520.2,2072.6 2521.9,2073.9 2524.5,2073.7 2526.3,2074.3 2528.4,2073.5 2530.6,2074.1 2535,2075 2669.74,2075 2670.56,2059.06 2671.38,2031.16 2672.2,1995.3 2673.02,1947.48 2673.84,1875.75 2674.66,1716.35 2675.48,1517.1 2676.3,1385.6 2677.12,1278 2677.94,1385.6 2678.76,1517.1 2679.58,1716.35 2680.4,1875.75 2681.22,1947.48 2682.04,1995.3 2682.86,2031.16 2683.68,2059.06 2684.5,2075 2707,2075" fill="none" stroke="#0000ff" stroke-width="2" stroke-linejoin="miter" stroke-miterlimit="2" shape-rendering="crispEdges"/>
<rect x="2513" y="1280" width="194" height="796" fill="none" stroke="#000" stroke-width="2"/>
<text transform="translate(2499.8 2010) scale(1 1.04)" text-anchor="end">2000</text><text transform="translate(2499.8 1928.12) scale(1 1.04)" text-anchor="end">4000</text><text transform="translate(2499.8 1846.25) scale(1 1.04)" text-anchor="end">6000</text><text transform="translate(2499.8 1764.38) scale(1 1.04)" text-anchor="end">8000</text><text transform="translate(2499.8 1682.5) scale(1 1.04)" text-anchor="end"><tspan class="o1">1</tspan>0000</text><text transform="translate(2499.8 1600.62) scale(1 1.04)" text-anchor="end"><tspan class="o1">1</tspan>2000</text><text transform="translate(2499.8 1518.75) scale(1 1.04)" text-anchor="end"><tspan class="o1">1</tspan>4000</text><text transform="translate(2499.8 1436.88) scale(1 1.04)" text-anchor="end"><tspan class="o1">1</tspan>6000</text><text transform="translate(2499.8 1355) scale(1 1.04)" text-anchor="end"><tspan class="o1">1</tspan>8000</text><text transform="translate(2512 2129.5) scale(1 1.04)" text-anchor="middle">0</text><text transform="translate(2676 2129.5) scale(1 1.04)" text-anchor="middle">50</text><text transform="translate(2607 1246) scale(1 1.04)" text-anchor="middle">źródło CSP: 7</text>
<g stroke="#000" stroke-width="2" fill="none"><path d="M2848 1896H2856M3042 1896H3034"/><path d="M2848 1716H2856M3042 1716H3034"/><path d="M2848 1536H2856M3042 1536H3034"/><path d="M2848 1356H2856M3042 1356H3034"/><path d="M3012 2076V2068M3012 1280V1288"/></g>
<polyline clip-path="url(#c15)" points="2848,2075 3005.51,2075 3006.33,2059.06 3007.15,2031.16 3007.97,1995.3 3008.79,1947.48 3009.61,1875.75 3010.43,1716.35 3011.25,1517.1 3012.07,1385.6 3012.89,1278 3013.71,1385.6 3014.53,1517.1 3015.35,1716.35 3016.17,1875.75 3016.99,1947.48 3017.81,1995.3 3018.63,2031.16 3019.45,2059.06 3020.27,2075 3042,2075" fill="none" stroke="#0000ff" stroke-width="2" stroke-linejoin="miter" stroke-miterlimit="2" shape-rendering="crispEdges"/>
<rect x="2848" y="1280" width="194" height="796" fill="none" stroke="#000" stroke-width="2"/>
<text transform="translate(2834.8 1912) scale(1 1.04)" text-anchor="end">0.5</text><text transform="translate(2834.8 1732) scale(1 1.04)" text-anchor="end"><tspan class="o1">1</tspan></text><text transform="translate(2834.8 1552) scale(1 1.04)" text-anchor="end"><tspan class="o1">1</tspan>.5</text><text transform="translate(2834.8 1372) scale(1 1.04)" text-anchor="end">2</text><text transform="translate(2847 2129.5) scale(1 1.04)" text-anchor="middle">0</text><text transform="translate(3011 2129.5) scale(1 1.04)" text-anchor="middle">50</text><text transform="translate(2942 1246) scale(1 1.04)" text-anchor="middle">źródło CSP: 8</text>
<text transform="translate(2847.5 1261) scale(1 1.04)">x <tspan class="o1">1</tspan>0</text>
<text transform="translate(2928 1233) scale(1 1.04)" style="font-size:27px">4</text>
<g fill="#fff"><rect x="394.36" y="824.56" width="7.88" height="5.44"/><rect x="406.62" y="824.56" width="7.55" height="5.44"/><rect x="730.36" y="756.72" width="7.88" height="5.44"/><rect x="742.62" y="756.72" width="7.55" height="5.44"/><rect x="730.36" y="643.89" width="7.88" height="5.44"/><rect x="742.62" y="643.89" width="7.55" height="5.44"/><rect x="935.87" y="136.56" width="7.88" height="5.44"/><rect x="948.13" y="136.56" width="7.55" height="5.44"/><rect x="1065.36" y="821.06" width="7.88" height="5.44"/><rect x="1077.62" y="821.06" width="7.55" height="5.44"/><rect x="1065.36" y="740.56" width="7.88" height="5.44"/><rect x="1077.62" y="740.56" width="7.55" height="5.44"/><rect x="1424.54" y="901.56" width="7.88" height="5.44"/><rect x="1436.8" y="901.56" width="7.55" height="5.44"/><rect x="1737.36" y="721.36" width="7.88" height="5.44"/><rect x="1749.62" y="721.36" width="7.55" height="5.44"/><rect x="1737.36" y="591.16" width="7.88" height="5.44"/><rect x="1749.62" y="591.16" width="7.55" height="5.44"/><rect x="2096.54" y="369.16" width="7.88" height="5.44"/><rect x="2108.8" y="369.16" width="7.55" height="5.44"/><rect x="2096.54" y="246.56" width="7.88" height="5.44"/><rect x="2108.8" y="246.56" width="7.55" height="5.44"/><rect x="2409.36" y="210.56" width="7.88" height="5.44"/><rect x="2421.62" y="210.56" width="7.55" height="5.44"/><rect x="2744.36" y="612.9" width="7.88" height="5.44"/><rect x="2756.62" y="612.9" width="7.55" height="5.44"/><rect x="2744.36" y="428.23" width="7.88" height="5.44"/><rect x="2756.62" y="428.23" width="7.55" height="5.44"/><rect x="394.36" y="1956.56" width="7.88" height="5.44"/><rect x="406.62" y="1956.56" width="7.55" height="5.44"/><rect x="699.59" y="1241.56" width="7.88" height="5.44"/><rect x="711.85" y="1241.56" width="7.55" height="5.44"/><rect x="730.36" y="1963.56" width="7.88" height="5.44"/><rect x="742.62" y="1963.56" width="7.55" height="5.44"/><rect x="1065.36" y="1953.56" width="7.88" height="5.44"/><rect x="1077.62" y="1953.56" width="7.55" height="5.44"/><rect x="1401.36" y="1955.56" width="7.88" height="5.44"/><rect x="1413.62" y="1955.56" width="7.55" height="5.44"/><rect x="1714.21" y="1312.56" width="7.88" height="5.44"/><rect x="1726.47" y="1312.56" width="7.55" height="5.44"/><rect x="2073.36" y="2005.56" width="7.88" height="5.44"/><rect x="2085.62" y="2005.56" width="7.55" height="5.44"/><rect x="2386.21" y="1678.06" width="7.88" height="5.44"/><rect x="2398.47" y="1678.06" width="7.55" height="5.44"/><rect x="2386.21" y="1596.18" width="7.88" height="5.44"/><rect x="2398.47" y="1596.18" width="7.55" height="5.44"/><rect x="2386.21" y="1514.31" width="7.88" height="5.44"/><rect x="2398.47" y="1514.31" width="7.55" height="5.44"/><rect x="2386.21" y="1432.44" width="7.88" height="5.44"/><rect x="2398.47" y="1432.44" width="7.55" height="5.44"/><rect x="2386.21" y="1350.56" width="7.88" height="5.44"/><rect x="2398.47" y="1350.56" width="7.55" height="5.44"/><rect x="2813.88" y="1727.56" width="7.88" height="5.44"/><rect x="2826.14" y="1727.56" width="7.55" height="5.44"/><rect x="2779.13" y="1547.56" width="7.88" height="5.44"/><rect x="2791.39" y="1547.56" width="7.55" height="5.44"/><rect x="2882.16" y="1256.56" width="7.88" height="5.44"/><rect x="2894.42" y="1256.56" width="7.55" height="5.44"/></g>
</svg></body></html>
